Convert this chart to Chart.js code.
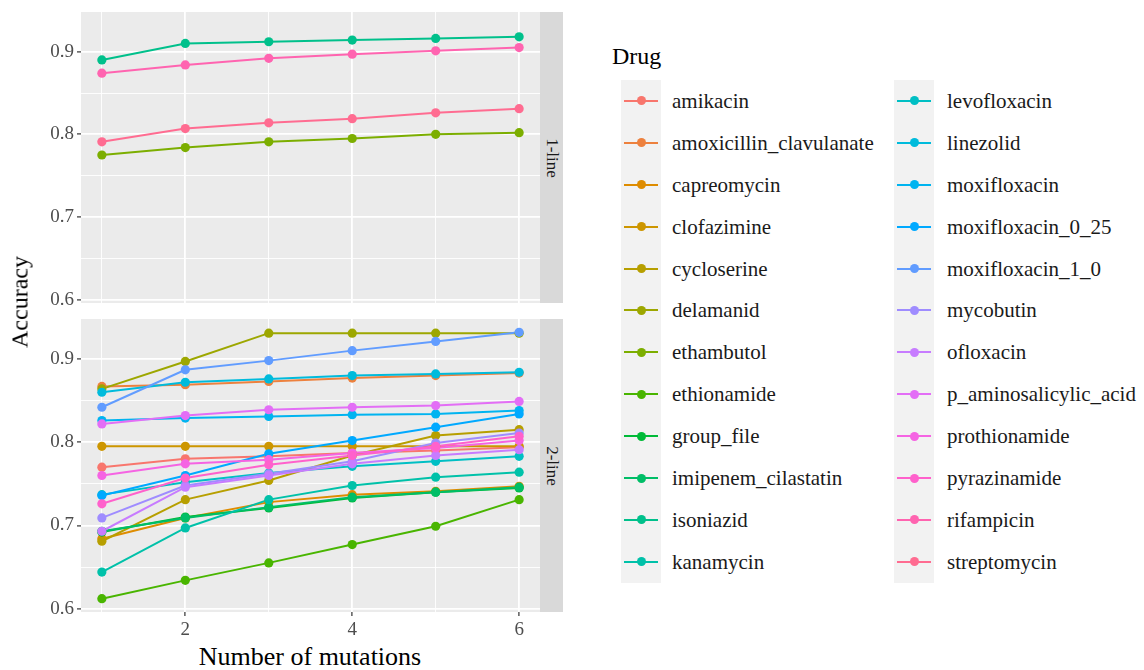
<!DOCTYPE html>
<html>
<head>
<meta charset="utf-8">
<script src="https://cdn.jsdelivr.net/npm/chart.js@4.4.1/dist/chart.umd.min.js"></script>
<style>
  body { margin: 0; background: #fff; font-family: "Liberation Serif", "Times New Roman", serif; }
  #wrap { position: relative; width: 1144px; height: 670px; overflow: hidden; }
  .panel { position: absolute; left: 0; }
  .strip { position: absolute; left: 540px; width: 23px; background: #D9D9D9; }
  .strip span { position: absolute; left: 50%; top: 50%; transform: translate(-50%, -50%) rotate(90deg);
    white-space: nowrap; font-size: 17px; color: #1A1A1A; }
  .title { position: absolute; color: #000; white-space: nowrap; }
  #ytitle { left: 20px; top: 302px; font-size: 24px; transform: translate(-50%, -50%) rotate(-90deg); }
  #xtitle { left: 310px; top: 657px; font-size: 26px; transform: translate(-50%, -50%); }
  #legTitle { position: absolute; left: 612px; top: 43px; font-size: 24px; }
  .keyband { position: absolute; width: 40px; background: #F2F2F2; }
  .keyline { position: absolute; height: 2px; width: 34px; }
  .keydot { position: absolute; width: 9px; height: 9px; border-radius: 50%; }
  .keytext { position: absolute; font-size: 21px; color: #1A1A1A; white-space: nowrap; transform: translateY(-50%); }
</style>
</head>
<body>
<div id="wrap">
  <div class="panel" style="top:12px"><canvas id="top" width="540" height="303"></canvas></div>
  <div class="panel" style="top:319px"><canvas id="bottom" width="540" height="323"></canvas></div>
  <div class="strip" style="top:12px;height:291px"><span>1-line</span></div>
  <div class="strip" style="top:319px;height:293px"><span>2-line</span></div>
  <div class="title" id="ytitle">Accuracy</div>
  <div class="title" id="xtitle">Number of mutations</div>
  <div id="legend"></div>
</div>
<script>
var mutations = [1, 2, 3, 4, 5, 6];
var drugs = ["amikacin", "amoxicillin_clavulanate", "capreomycin", "clofazimine", "cycloserine",
  "delamanid", "ethambutol", "ethionamide", "group_file", "imipenem_cilastatin", "isoniazid",
  "kanamycin", "levofloxacin", "linezolid", "moxifloxacin", "moxifloxacin_0_25", "moxifloxacin_1_0",
  "mycobutin", "ofloxacin", "p_aminosalicylic_acid", "prothionamide", "pyrazinamide", "rifampicin",
  "streptomycin"];
var firstLine = ["ethambutol", "isoniazid", "rifampicin", "streptomycin"];

// accuracy at 1..6 mutations
var amikacin = [0.770, 0.780, 0.783, 0.787, 0.790, 0.794];
var amoxicillin_clavulanate = [0.867, 0.869, 0.873, 0.877, 0.880, 0.883];
var capreomycin = [0.684, 0.709, 0.728, 0.737, 0.741, 0.747];
var clofazimine = [0.795, 0.795, 0.795, 0.795, 0.795, 0.795];
var cycloserine = [0.681, 0.731, 0.754, 0.784, 0.808, 0.815];
var delamanid = [0.864, 0.897, 0.931, 0.931, 0.931, 0.931];
var ethambutol = [0.775, 0.784, 0.791, 0.795, 0.800, 0.802];
var ethionamide = [0.612, 0.634, 0.655, 0.677, 0.699, 0.731];
var group_file = [0.692, 0.710, 0.721, 0.733, 0.740, 0.745];
var imipenem_cilastatin = [0.693, 0.709, 0.722, 0.734, 0.740, 0.746];
var isoniazid = [0.890, 0.910, 0.912, 0.914, 0.916, 0.918];
var kanamycin = [0.644, 0.697, 0.731, 0.748, 0.758, 0.764];
var levofloxacin = [0.737, 0.752, 0.763, 0.771, 0.777, 0.783];
var linezolid = [0.860, 0.872, 0.876, 0.880, 0.882, 0.884];
var moxifloxacin = [0.826, 0.829, 0.831, 0.833, 0.834, 0.838];
var moxifloxacin_0_25 = [0.736, 0.760, 0.786, 0.802, 0.818, 0.834];
var moxifloxacin_1_0 = [0.842, 0.887, 0.898, 0.910, 0.921, 0.932];
var mycobutin = [0.709, 0.748, 0.762, 0.777, 0.799, 0.811];
var ofloxacin = [0.693, 0.746, 0.760, 0.774, 0.784, 0.791];
var p_aminosalicylic_acid = [0.822, 0.832, 0.839, 0.842, 0.844, 0.849];
var prothionamide = [0.760, 0.774, 0.779, 0.787, 0.793, 0.802];
var pyrazinamide = [0.726, 0.757, 0.773, 0.784, 0.795, 0.807];
var rifampicin = [0.874, 0.884, 0.892, 0.897, 0.901, 0.905];
var streptomycin = [0.791, 0.807, 0.814, 0.819, 0.826, 0.831];

var accuracy = [amikacin, amoxicillin_clavulanate, capreomycin, clofazimine, cycloserine,
  delamanid, ethambutol, ethionamide, group_file, imipenem_cilastatin, isoniazid,
  kanamycin, levofloxacin, linezolid, moxifloxacin, moxifloxacin_0_25, moxifloxacin_1_0,
  mycobutin, ofloxacin, p_aminosalicylic_acid, prothionamide, pyrazinamide, rifampicin,
  streptomycin];

var xTickLabels = [2, 4, 6];
var yTickLabels = [0.6, 0.7, 0.8, 0.9];

// ggplot-style hue palette (HCL, l=65, c=100)
function hcl(h, c, l) {
  var hr = h * Math.PI / 180;
  var U = c * Math.cos(hr), V = c * Math.sin(hr);
  var Xn = 95.047, Yn = 100, Zn = 108.883;
  var un = 4 * Xn / (Xn + 15 * Yn + 3 * Zn), vn = 9 * Yn / (Xn + 15 * Yn + 3 * Zn);
  var Y = Yn * Math.pow((l + 16) / 116, 3);
  var u = U / (13 * l) + un, v = V / (13 * l) + vn;
  var X = 9 * Y * u / (4 * v);
  var Z = -X / 3 - 5 * Y + 3 * Y / v;
  X /= 100; Y /= 100; Z /= 100;
  var rgb = [
    3.240479 * X - 1.53715 * Y - 0.498535 * Z,
    -0.969256 * X + 1.875992 * Y + 0.041556 * Z,
    0.055648 * X - 0.204043 * Y + 1.057311 * Z
  ].map(function (t) {
    t = t <= 0.0031308 ? 12.92 * t : 1.055 * Math.pow(t, 1 / 2.4) - 0.055;
    t = Math.max(0, Math.min(1, t));
    return Math.round(t * 255);
  });
  return "rgb(" + rgb.join(",") + ")";
}
var colors = drugs.map(function (d, i) { return hcl(15 + 360 * i / drugs.length, 100, 65); });

var font = "'Liberation Serif', 'Times New Roman', serif";

var panelBg = {
  id: "panelBg",
  beforeDraw: function (chart) {
    var a = chart.chartArea, c = chart.ctx;
    c.save();
    c.fillStyle = "#EBEBEB";
    c.fillRect(a.left, a.top, a.right - a.left, a.bottom - a.top);
    c.restore();
  }
};

function isMajorX(v) { return Math.abs(v - Math.round(v)) < 1e-6 && xTickLabels.indexOf(Math.round(v)) >= 0; }
function isMajorY(v) {
  return yTickLabels.some(function (t) { return Math.abs(t - v) < 1e-6; });
}
function noPad(s) { s.paddingTop = 0; s.paddingBottom = 0; s.paddingLeft = 0; s.paddingRight = 0; }

function makePanel(id, showX, top) {
  var datasets = [];
  drugs.forEach(function (d, i) {
    if ((firstLine.indexOf(d) >= 0) !== top) return;
    var pts = mutations.map(function (m, k) { return { x: m, y: accuracy[i][k] }; });
    datasets.push({ label: d, data: pts, borderColor: colors[i], borderWidth: 2,
      pointRadius: 0, fill: false, tension: 0, order: 1000 - i });
    datasets.push({ label: d, data: pts, showLine: false, pointRadius: 4.6,
      pointBackgroundColor: colors[i], pointBorderWidth: 0, order: 500 - i });
  });
  return new Chart(document.getElementById(id), {
    type: "line",
    data: { datasets: datasets },
    plugins: [panelBg],
    options: {
      responsive: false,
      animation: false,
      events: [],
      layout: { padding: 0, autoPadding: false },
      plugins: { legend: { display: false }, tooltip: { enabled: false } },
      scales: {
        x: {
          type: "linear", min: 0.75, max: 6.25,
          border: { display: false },
          ticks: {
            display: showX, stepSize: 1, includeBounds: false, autoSkip: false, maxRotation: 0, padding: 3,
            color: "#4D4D4D", font: { family: font, size: 19 },
            callback: function (v) { return isMajorX(v) ? String(v) : ""; }
          },
          grid: {
            color: "#FFFFFF",
            lineWidth: function (ctx) { return isMajorX(ctx.tick.value) ? 1.8 : 0.9; },
            drawTicks: showX, tickLength: 4, tickWidth: 1.2,
            tickColor: function (ctx) { return isMajorX(ctx.tick.value) ? "#333333" : "rgba(0,0,0,0)"; }
          },
          afterFit: function (s) { s.height = showX ? 30 : 12; noPad(s); }
        },
        y: {
          min: 0.596, max: 0.948,
          border: { display: false },
          ticks: {
            stepSize: 0.05, includeBounds: false, padding: 3,
            color: "#4D4D4D", font: { family: font, size: 19 },
            callback: function (v) { return isMajorY(v) ? v.toFixed(1) : ""; }
          },
          grid: {
            color: "#FFFFFF",
            lineWidth: function (ctx) { return isMajorY(ctx.tick.value) ? 1.8 : 0.9; },
            tickLength: 4, tickWidth: 1.2,
            tickColor: function (ctx) { return isMajorY(ctx.tick.value) ? "#333333" : "rgba(0,0,0,0)"; }
          },
          afterFit: function (s) { s.width = 81; noPad(s); }
        }
      }
    }
  });
}

makePanel("top", false, true);
makePanel("bottom", true, false);

// legend (two columns of 12)
var leg = document.getElementById("legend");
var html = '<div id="legTitle">Drug</div>';
var rowH = 41.9, y0 = 80;
var bandX = [621, 894], textX = [672, 947];
for (var col = 0; col < 2; col++) {
  html += '<div class="keyband" style="left:' + bandX[col] + 'px;top:' + y0 + 'px;height:' + (rowH * 12) + 'px"></div>';
}
drugs.forEach(function (d, i) {
  var col = Math.floor(i / 12), row = i % 12;
  var cy = y0 + rowH * (row + 0.5);
  var cx = bandX[col] + 20;
  html += '<div class="keyline" style="left:' + (cx - 17) + 'px;top:' + (cy - 1) + 'px;background:' + colors[i] + '"></div>';
  html += '<div class="keydot" style="left:' + (cx - 4.5) + 'px;top:' + (cy - 4.5) + 'px;background:' + colors[i] + '"></div>';
  html += '<div class="keytext" style="left:' + textX[col] + 'px;top:' + cy + 'px">' + d + '</div>';
});
leg.innerHTML = html;
</script>
</body>
</html>
